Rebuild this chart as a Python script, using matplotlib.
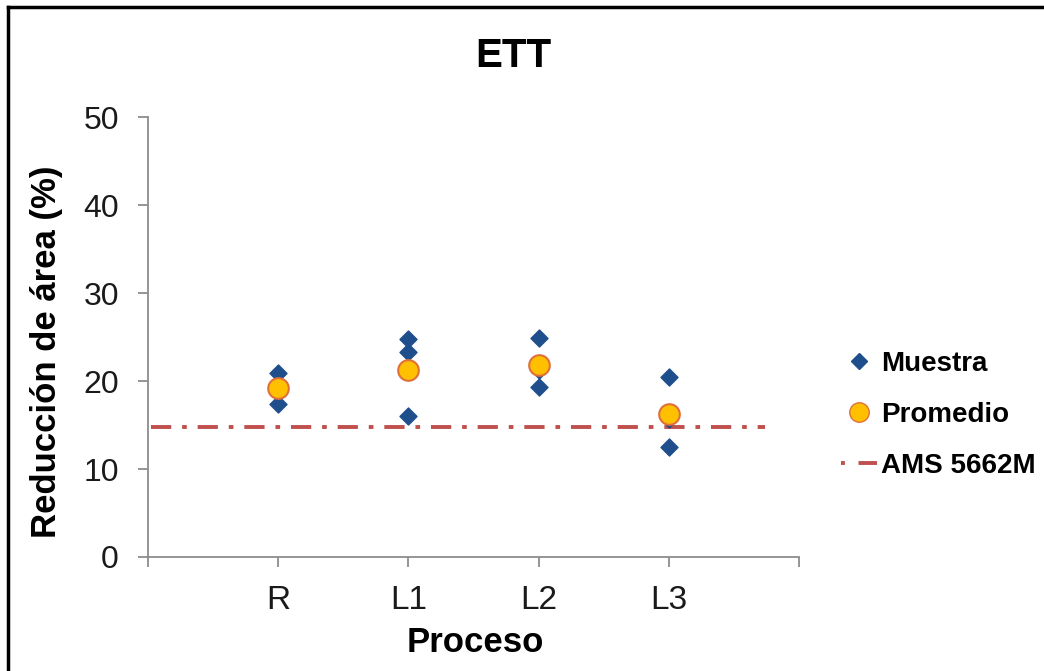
import matplotlib
matplotlib.use("Agg")
import matplotlib.pyplot as plt
from matplotlib.lines import Line2D

plt.rcParams['font.family'] = ['Liberation Sans', 'DejaVu Sans']

# datos
procesos = ["R", "L1", "L2", "L3"]
muestra_x = [1, 1, 2, 2, 2, 3, 3, 3, 4, 4, 4]
muestra_y = [20.9, 17.4, 24.8, 23.3, 16.0, 24.9, 21.2, 19.3, 20.5, 12.5, 15.7]
promedio = [19.2, 21.3, 21.8, 16.2]
ams_5662m = 14.8

W, H = 1044, 671
fig = plt.figure(figsize=(W / 100, H / 100), dpi=100)
ax = fig.add_axes([148 / W, 1 - 557 / H, (799 - 148) / W, (557 - 117) / H])

ax.scatter(muestra_x, muestra_y, marker='D', s=75, color='#1f4e8c', zorder=3,
           label='Muestra')
ax.scatter(range(1, len(procesos) + 1), promedio, marker='o', s=220,
           facecolor='#ffc000', edgecolor='#e0703a', linewidth=1.5, zorder=4,
           label='Promedio')
# linea limite AMS 5662M (punto y raya)
ax.plot([0.02, 4.74], [ams_5662m, ams_5662m], color='#c0504d', lw=2.8,
        dashes=(5.2, 2.8, 1.2, 2.8), zorder=2, label='AMS 5662M')

ax.set_xlim(0, 5)
ax.set_ylim(0, 50)
ax.set_yticks(range(0, 51, 10))
ax.set_xticks(range(0, 6))
ax.set_xticklabels([''] + procesos + [''])
for s in ['top', 'right']:
    ax.spines[s].set_visible(False)
for s in ['left', 'bottom']:
    ax.spines[s].set_color('#8c8c8c')
    ax.spines[s].set_linewidth(1.3)
ax.tick_params(colors='#8c8c8c', length=7, width=1.3, labelcolor='#1a1a1a')
ax.tick_params(axis='x', labelsize=24, pad=13)
ax.tick_params(axis='y', labelsize=23, pad=14)

fig.text(475 / W, 1 - 643 / H, 'Proceso', fontsize=25, fontweight='bold',
         ha='center', va='center')
fig.text(47 / W, 1 - 352 / H, 'Reducción de área (%)', fontsize=25,
         fontweight='bold', rotation=90, ha='center', va='center')
fig.text(513 / W, 1 - 56 / H, 'ETT', fontsize=29, fontweight='bold',
         ha='center', va='center')

handles = [
    Line2D([], [], marker='D', ls='none', color='#1f4e8c', markersize=8),
    Line2D([], [], marker='o', ls='none', markerfacecolor='#ffc000',
           markeredgecolor='#e0703a', markersize=14),
    Line2D([], [], color='#c0504d', lw=2.8, dashes=(1, 3.5, 8, 3)),
]
fig.legend(handles, ['Muestra', 'Promedio', 'AMS 5662M'], loc='center left',
           bbox_to_anchor=(816 / W, 1 - 415 / H), frameon=False,
           prop={'size': 20, 'weight': 'bold'}, handlelength=1.3,
           handletextpad=0.15, labelspacing=0.9)

# marco exterior
fig.add_artist(Line2D([8 / W, 8 / W], [0, 1 - 7 / H], color='black', lw=2.5,
                      transform=fig.transFigure))
fig.add_artist(Line2D([8 / W, 1], [1 - 7 / H, 1 - 7 / H], color='black', lw=2.5,
                      transform=fig.transFigure))

plt.savefig('out.png', dpi=100)
